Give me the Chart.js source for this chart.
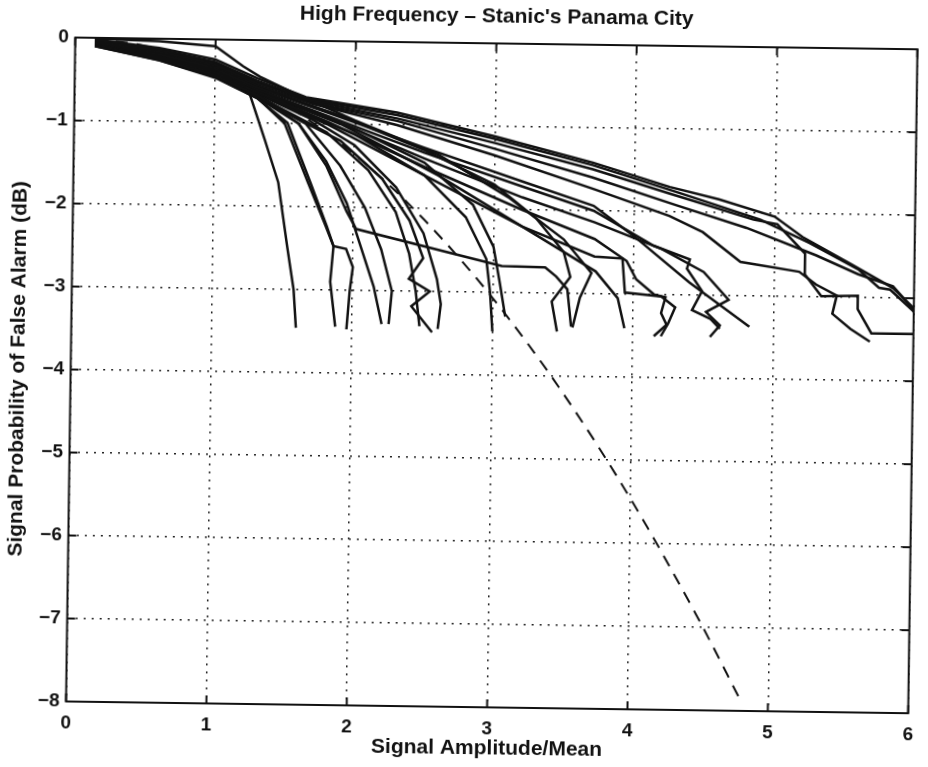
<!DOCTYPE html>
<html>
<head>
<meta charset="utf-8">
<script src="https://cdn.jsdelivr.net/npm/chart.js@4.4.1/dist/chart.umd.min.js"></script>
<style>
  html, body { margin: 0; padding: 0; background: #fff; }
  /* the printed page sits slightly skewed */
  #wrap { width: 928px; height: 767px; transform: rotate(0.8deg); }
</style>
</head>
<body>
<div id="wrap"><canvas id="pfa" width="928" height="767"></canvas></div>
<script>
// measured runs: [amplitude/mean, log Pfa]
const runs = [
  [[0.14,-0.02],[0.6,-0.11],[1.0,-0.24],[1.3,-0.46],[1.65,-0.68],[2.3,-0.85],[3.0,-1.12],[3.7,-1.42],[4.25,-1.7],[4.6,-1.84],[5.0,-2.04],[5.2,-2.28],[5.55,-2.6],[5.85,-2.88],[6.0,-3.12]],
  [[0.14,-0.03],[0.6,-0.13],[1.0,-0.27],[1.3,-0.49],[1.65,-0.7],[2.3,-0.88],[3.0,-1.15],[3.7,-1.45],[4.3,-1.76],[4.9,-2.08],[5.25,-2.35],[5.6,-2.66],[5.75,-2.88],[5.83,-2.9],[6.0,-3.16]],
  [[0.14,-0.04],[0.6,-0.15],[1.0,-0.3],[1.3,-0.52],[1.7,-0.73],[2.3,-0.92],[3.0,-1.2],[3.7,-1.5],[4.25,-1.78],[4.85,-2.08],[5.02,-2.13],[5.22,-2.48],[5.22,-2.73],[5.34,-2.99],[5.6,-2.98],[5.6,-3.14],[5.7,-3.43],[6.0,-3.43]],
  [[0.14,-0.05],[0.6,-0.16],[1.0,-0.32],[1.3,-0.54],[1.7,-0.76],[2.3,-1.0],[3.0,-1.35],[3.71,-1.74],[4.25,-2.05],[4.49,-2.24],[4.76,-2.59],[5.18,-2.7],[5.3,-2.85],[5.45,-2.98],[5.42,-3.2],[5.55,-3.38],[5.69,-3.53]],
  [[0.14,-0.04],[0.6,-0.15],[1.0,-0.29],[1.3,-0.5],[1.7,-0.75],[2.3,-0.95],[3.0,-1.27],[3.7,-1.6],[4.3,-1.92],[4.8,-2.18],[5.3,-2.5],[5.6,-2.72],[5.85,-2.86],[6.0,-3.14]],
  [[0.14,-0.05],[0.6,-0.18],[1.0,-0.35],[1.3,-0.57],[1.8,-0.86],[2.5,-1.27],[3.2,-1.66],[3.71,-1.94],[4.0,-2.3],[4.4,-2.85],[4.83,-3.37]],
  [[0.14,-0.06],[0.6,-0.19],[1.0,-0.36],[1.3,-0.59],[1.8,-0.9],[2.5,-1.33],[3.2,-1.72],[3.71,-2.0],[4.14,-2.41],[4.4,-2.57],[4.38,-2.68],[4.49,-2.95],[4.42,-3.18],[4.55,-3.28],[4.62,-3.4]],
  [[0.14,-0.06],[0.6,-0.2],[1.0,-0.37],[1.3,-0.6],[1.8,-0.92],[2.5,-1.4],[3.2,-1.85],[3.72,-2.14],[4.2,-2.45],[4.5,-2.72],[4.68,-3.05],[4.52,-3.2],[4.62,-3.36],[4.55,-3.5]],
  [[0.14,-0.07],[0.6,-0.21],[1.0,-0.38],[1.3,-0.62],[1.8,-0.97],[2.5,-1.5],[3.2,-2.0],[3.72,-2.34],[3.95,-2.6],[4.02,-2.82],[4.15,-3.0],[4.23,-3.03],[4.2,-3.22],[4.24,-3.36],[4.15,-3.5]],
  [[0.14,-0.07],[0.6,-0.22],[1.0,-0.4],[1.3,-0.63],[1.8,-1.0],[2.5,-1.6],[3.2,-2.2],[3.73,-2.73],[3.89,-3.05],[3.94,-3.41]],
  [[0.14,-0.06],[0.6,-0.2],[1.0,-0.37],[1.3,-0.6],[1.9,-1.0],[2.6,-1.6],[3.2,-2.2],[3.72,-2.55],[3.92,-2.57],[3.94,-2.98],[4.2,-3.02],[4.3,-3.15],[4.25,-3.35],[4.2,-3.5]],
  [[0.14,-0.08],[0.6,-0.24],[1.0,-0.43],[1.3,-0.66],[1.6,-1.0],[1.8,-1.5],[1.95,-2.05],[2.02,-2.26],[3.06,-2.68],[3.37,-2.69],[3.45,-2.8],[3.53,-2.95],[3.56,-3.4]],
  [[0.14,-0.05],[0.6,-0.18],[1.0,-0.34],[1.3,-0.56],[1.9,-0.9],[2.5,-1.3],[3.0,-1.7],[3.3,-2.1],[3.5,-2.5],[3.55,-2.8],[3.42,-3.1],[3.46,-3.46]],
  [[0.14,-0.07],[0.6,-0.21],[1.0,-0.39],[1.3,-0.62],[2.0,-1.05],[2.5,-1.45],[2.85,-1.95],[3.0,-2.45],[3.05,-2.9],[3.09,-3.29]],
  [[0.14,-0.07],[0.6,-0.22],[1.0,-0.4],[1.3,-0.63],[2.0,-1.12],[2.5,-1.6],[2.8,-2.1],[2.95,-2.6],[2.98,-3.0],[3.0,-3.47]],
  [[0.14,-0.08],[0.6,-0.23],[1.0,-0.42],[1.3,-0.65],[1.7,-0.95],[2.0,-1.25],[2.3,-1.75],[2.5,-2.3],[2.6,-2.85],[2.63,-3.15],[2.61,-3.45]],
  [[0.14,-0.08],[0.6,-0.24],[1.0,-0.43],[1.3,-0.66],[1.6,-0.95],[1.9,-1.2],[2.2,-1.65],[2.4,-2.15],[2.5,-2.6],[2.4,-2.85],[2.55,-3.0],[2.42,-3.18],[2.57,-3.49]],
  [[0.14,-0.09],[0.6,-0.24],[1.0,-0.44],[1.3,-0.67],[1.8,-1.1],[2.1,-1.55],[2.3,-2.05],[2.4,-2.55],[2.45,-3.0],[2.48,-3.42]],
  [[0.14,-0.09],[0.6,-0.25],[1.0,-0.44],[1.3,-0.68],[1.65,-1.0],[1.9,-1.5],[2.08,-2.0],[2.2,-2.5],[2.28,-3.0],[2.26,-3.4]],
  [[0.14,-0.1],[0.6,-0.26],[1.0,-0.45],[1.3,-0.69],[1.6,-1.0],[1.8,-1.45],[1.95,-1.95],[2.05,-2.45],[2.15,-2.95],[2.21,-3.4]],
  [[0.14,-0.1],[0.6,-0.26],[1.0,-0.46],[1.3,-0.7],[1.52,-0.99],[1.69,-1.71],[1.81,-2.23],[1.86,-2.47],[1.95,-2.5],[2.0,-2.72],[1.98,-3.0],[1.96,-3.47]],
  [[0.14,-0.09],[0.6,-0.25],[1.0,-0.45],[1.3,-0.69],[1.5,-1.0],[1.67,-1.7],[1.8,-2.22],[1.86,-2.47],[1.84,-2.9],[1.88,-3.44]],
  [[0.14,-0.08],[0.6,-0.24],[1.0,-0.42],[1.25,-0.66],[1.36,-1.2],[1.46,-1.71],[1.53,-2.48],[1.58,-3.0],[1.6,-3.46]],
  [[0.14,-0.01],[0.6,-0.03],[1.0,-0.08],[1.2,-0.32],[1.32,-0.44],[1.6,-0.66],[2.0,-0.95],[2.6,-1.35],[3.1,-1.85],[3.5,-2.35],[3.7,-2.75],[3.62,-3.05],[3.57,-3.41]]
];

// Rayleigh reference curve (dashed)
const rayleighX = [0.14, 0.5, 1, 1.5, 2, 2.5, 3, 3.5, 4, 4.5, 4.8];
const rayleighY = [-0.01, -0.09, -0.34, -0.77, -1.36, -2.13, -3.07, -4.18, -5.46, -6.91, -7.86];

const xTicks = [0, 1, 2, 3, 4, 5, 6];
const yTicks = [0, -1, -2, -3, -4, -5, -6, -7, -8];

const ink = '#111';
const face = 'Liberation Sans, Arial, Helvetica, sans-serif';

const datasets = runs.map(r => ({
  data: r.map(p => ({ x: p[0], y: p[1] })),
  showLine: true,
  borderColor: ink,
  borderWidth: 2.5,
  pointRadius: 0,
  tension: 0
}));
datasets.push({
  data: rayleighX.map((x, i) => ({ x, y: rayleighY[i] })),
  showLine: true,
  borderColor: ink,
  borderWidth: 2,
  borderDash: [12, 9],
  pointRadius: 0,
  cubicInterpolationMode: 'monotone'
});

// box around the axes with inward ticks on every side
const frame = {
  id: 'frame',
  afterDatasetsDraw(chart) {
    const { ctx, chartArea: a, scales: { x, y } } = chart;
    ctx.save();
    ctx.strokeStyle = ink;
    ctx.lineWidth = 2;
    ctx.strokeRect(a.left, a.top, a.right - a.left, a.bottom - a.top);
    ctx.beginPath();
    xTicks.forEach(v => {
      const px = x.getPixelForValue(v);
      ctx.moveTo(px, a.bottom); ctx.lineTo(px, a.bottom - 8);
      ctx.moveTo(px, a.top); ctx.lineTo(px, a.top + 8);
    });
    yTicks.forEach(v => {
      const py = y.getPixelForValue(v);
      ctx.moveTo(a.left, py); ctx.lineTo(a.left + 8, py);
      ctx.moveTo(a.right, py); ctx.lineTo(a.right - 8, py);
    });
    ctx.stroke();
    ctx.restore();
  }
};

new Chart(document.getElementById('pfa'), {
  type: 'scatter',
  data: { datasets },
  plugins: [frame],
  options: {
    responsive: false,
    animation: false,
    layout: { padding: { left: 0, right: 6.5, top: 0, bottom: 0 } },
    plugins: {
      legend: { display: false },
      tooltip: { enabled: false },
      title: {
        display: true,
        text: "High Frequency \u2013 Stanic's Panama City",
        fullSize: false,
        color: ink,
        font: { family: face, size: 21, weight: 'bold', lineHeight: 1.2 },
        padding: { top: 4, bottom: 13.8 }
      }
    },
    scales: {
      x: {
        type: 'linear',
        min: 0,
        max: 6,
        afterFit: s => { s.height = 60; },
        afterBuildTicks: s => { s.ticks = xTicks.map(v => ({ value: v })); },
        ticks: {
          color: ink,
          padding: 10,
          font: { family: face, size: 19, weight: 'bold', lineHeight: 1.2 },
          callback: v => String(v)
        },
        grid: { color: '#222', lineWidth: 1.5, drawTicks: false },
        border: { display: false, dash: [2, 6] },
        title: {
          display: true,
          text: 'Signal Amplitude/Mean',
          color: ink,
          font: { family: face, size: 21, weight: 'bold', lineHeight: 1.2 },
          padding: { top: 0, bottom: 6 }
        }
      },
      y: {
        type: 'linear',
        min: -8,
        max: 0,
        afterFit: s => { s.width = 70.5; },
        afterBuildTicks: s => { s.ticks = yTicks.map(v => ({ value: v })); },
        ticks: {
          color: ink,
          padding: 6.5,
          font: { family: face, size: 19, weight: 'bold', lineHeight: 1.2 },
          callback: v => v < 0 ? '\u2212' + Math.abs(v) : String(v)
        },
        grid: { color: '#222', lineWidth: 1.5, drawTicks: false },
        border: { display: false, dash: [2, 6] },
        title: {
          display: true,
          text: 'Signal Probability of False Alarm (dB)',
          color: ink,
          font: { family: face, size: 21, weight: 'bold', lineHeight: 1.2 },
          padding: { top: 5.4, bottom: 0 }
        }
      }
    }
  }
});
</script>
</body>
</html>
